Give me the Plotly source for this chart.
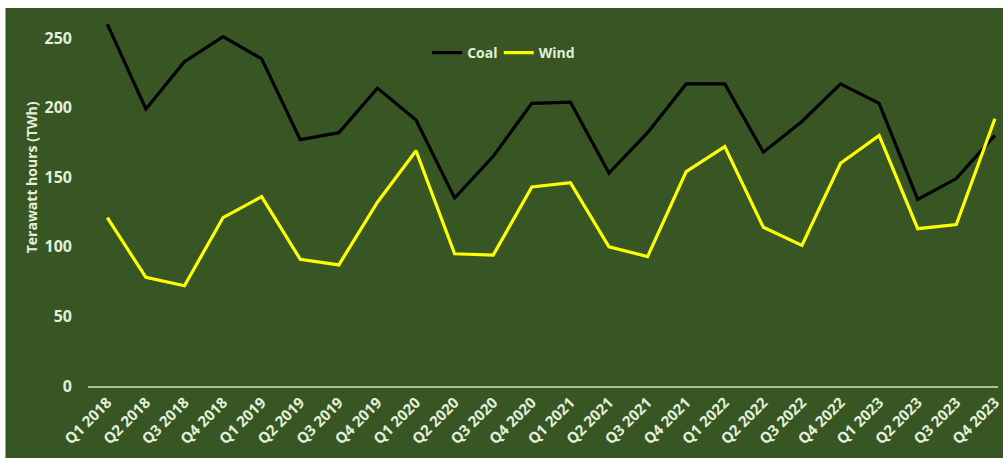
import plotly.graph_objects as go

quarters = [
    "Q1 2018", "Q2 2018", "Q3 2018", "Q4 2018",
    "Q1 2019", "Q2 2019", "Q3 2019", "Q4 2019",
    "Q1 2020", "Q2 2020", "Q3 2020", "Q4 2020",
    "Q1 2021", "Q2 2021", "Q3 2021", "Q4 2021",
    "Q1 2022", "Q2 2022", "Q3 2022", "Q4 2022",
    "Q1 2023", "Q2 2023", "Q3 2023", "Q4 2023",
]
coal_twh = [260, 199, 233, 251, 235, 177, 182, 214,
            191, 135, 165, 203, 204, 153, 182, 217,
            217, 168, 190, 217, 203, 134, 149, 180]
wind_twh = [121, 78, 72, 121, 136, 91, 87, 132,
            169, 95, 94, 143, 146, 100, 93, 154,
            172, 114, 101, 160, 180, 113, 116, 192]
y_ticks = [0, 50, 100, 150, 200, 250]

BG = "#375623"
TXT = "#E2EFDA"
FONT = "Open Sans"


def px_x(p):
    # horizontal pixel -> paper coordinate (plot area spans 88..1003)
    return (p - 88) / 915


def px_y(p):
    # vertical pixel -> paper coordinate (plot area spans 8..386)
    return (386 - p) / 378


fig = go.Figure()
fig.add_trace(go.Scatter(x=quarters, y=coal_twh, name="Coal", mode="lines",
                         line=dict(color="#000000", width=3.2), legend="legend"))
fig.add_trace(go.Scatter(x=quarters, y=wind_twh, name="Wind", mode="lines",
                         line=dict(color="#FFFF00", width=3.2), legend="legend2"))

# green chart panel with a thin white border strip at top and left
fig.add_shape(type="rect", xref="paper", yref="paper",
              x0=px_x(5), x1=1.05, y0=-0.3, y1=1.0,
              fillcolor=BG, line=dict(width=0), layer="below")

fig.add_annotation(text="<b>Terawatt hours (TWh)</b>", xref="paper", yref="paper",
                   x=px_x(31), y=px_y(177), textangle=-90,
                   xanchor="center", yanchor="middle",
                   showarrow=False, font=dict(family=FONT, size=14, color=TXT))

legend_style = dict(orientation="h", xanchor="left", yanchor="middle",
                    y=px_y(53), bgcolor="rgba(0,0,0,0)", itemwidth=30,
                    font=dict(family=FONT, size=14, color=TXT, weight="bold"))

fig.update_layout(
    width=1003, height=458,
    margin=dict(l=88, r=0, t=8, b=72),
    paper_bgcolor="white", plot_bgcolor=BG,
    font=dict(family=FONT, color=TXT),
    showlegend=True,
    legend=dict(x=px_x(429), **legend_style),
    legend2=dict(x=px_x(501), **legend_style),
    xaxis=dict(type="category", range=[-0.5, 23.08], showgrid=False,
               showline=True, linecolor="#A9C18F", linewidth=2,
               ticks="", tickangle=-45,
               tickfont=dict(family=FONT, size=15, color=TXT, weight="bold")),
    yaxis=dict(range=[0, (386 - 8) / 1.392], tickvals=y_ticks, showgrid=False,
               zeroline=False, showline=False, ticks="", ticklabelstandoff=15,
               tickfont=dict(family=FONT, size=16, color=TXT, weight="bold")),
)

fig.write_html("out.html")
